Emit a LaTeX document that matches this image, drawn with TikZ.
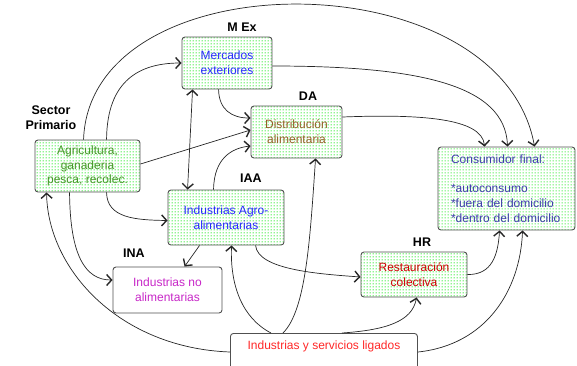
\documentclass[tikz,border=0pt]{standalone}
\usepackage{fontspec}
\setmainfont{Liberation Sans}
\usetikzlibrary{arrows.meta,patterns}

\definecolor{cblue}{RGB}{40,40,255}
\definecolor{cbrown}{RGB}{150,95,40}
\definecolor{cgreen}{RGB}{70,150,40}
\definecolor{cmagenta}{RGB}{200,40,200}
\definecolor{cindigo}{RGB}{60,60,170}
\definecolor{cdred}{RGB}{205,0,0}
\definecolor{cred}{RGB}{255,40,40}
\definecolor{dotgreen}{RGB}{0,230,0}
\definecolor{edge}{RGB}{80,80,80}

% a grid of fine dots used as the box shading
\pgfdeclarepatternformonly{gdots}{\pgfpointorigin}{\pgfpoint{3pt}{3pt}}{\pgfpoint{3pt}{3pt}}%
  {\pgfpathcircle{\pgfpoint{1.5pt}{1.5pt}}{0.8pt}\pgfusepath{fill}}

\tikzset{
  box/.style={draw=edge, line width=0.9pt, rounded corners=3pt, inner sep=0pt,
    align=center, font=\fontsize{12}{14.8}\selectfont},
  greenbox/.style={box, pattern=gdots, pattern color=dotgreen},
  plainbox/.style={box, fill=white},
  tag/.style={font=\fontsize{12.5}{15}\selectfont\bfseries, align=center, inner sep=0pt},
  tip/.tip={Straight Barb[length=5pt,width=11pt,line width=1.4pt]},
  flow/.style={draw=black!85, line width=0.7pt, -tip},
  flow2/.style={flow, tip-tip}
}

\begin{document}
\begin{tikzpicture}[x=1pt,y=-1pt]
\useasboundingbox (0,0) rectangle (577,365);
\path[clip] (0,0) rectangle (577,365);

% sector boxes
\node[greenbox, minimum width=90, minimum height=52, text=cblue] (mex) at (227,63) {Mercados\\exteriores};
\node[greenbox, minimum width=91, minimum height=52, text=cbrown] (da) at (296.5,132) {Distribución\\alimentaria};
\node[greenbox, minimum width=105, minimum height=52, text=cgreen] (agri) at (87.5,166) {Agricultura,\\ganaderia\\pesca, recolec.};
\node[greenbox, minimum width=116, minimum height=55, text=cblue] (iaa) at (226,217.5) {Industrias Agro-\\alimentarias};
\node[plainbox, minimum width=109, minimum height=46, text=cmagenta] (ina) at (167.5,290) {Industrias no\\alimentarias};
\node[greenbox, minimum width=106, minimum height=45, text=cdred] (hr) at (414,274.5) {Restauración\\colectiva};
\node[greenbox, minimum width=137, minimum height=83, text width=111, inner xsep=13, align=left, text=cindigo] (cons) at (506.5,188.5)
  {Consumidor final:\\[14.8pt]{*}autoconsumo\\{*}fuera del domicilio\\{*}dentro del domicilio};
\node[plainbox, minimum width=187, minimum height=47, text=cred, anchor=north west] (ind) at (230,333)
  {\smash{\raisebox{7pt}{Industrias y servicios ligados}}};

% short titles
\node[tag] (tmex) at (242,27) {M Ex};
\node[tag] (tda) at (308,96) {DA};
\node[tag] (tagri) at (51,117.5) {Sector\\Primario};
\node[tag] (tiaa) at (251,178) {IAA};
\node[tag] (tina) at (134,253) {INA};
\node[tag] (thr) at (422,242) {HR};

% flows out of the primary sector
\draw[flow] ([xshift=49]agri.north west) .. controls (90,-42) and (500,-42) .. ([xshift=97]cons.north west);
\draw[flow] ([xshift=72]agri.north west) .. controls (107,80) and (140,63) .. (mex.west);
\draw[flow] ([yshift=2]agri.east) -- ([yshift=2]da.west);
\draw[flow] ([xshift=72]agri.south west) .. controls (107,218) and (135,220) .. ([yshift=-3]iaa.west);
\draw[flow] ([xshift=35]agri.south west) .. controls (70,255) and (85,280) .. ([yshift=10]ina.west);

% foreign markets
\draw[flow] ([yshift=-3]mex.east) .. controls (420,66) and (505,85) .. ([xshift=70]cons.north west);
\draw[flow] ([xshift=37]mex.south west) .. controls (219,110) and (232,118) .. ([yshift=14]da.west);
\draw[flow2] ([xshift=11]mex.south west) -- ([xshift=20]iaa.north west);

% distribution and agro-food industry
\draw[flow] ([yshift=15]da.east) .. controls (420,114) and (482,118) .. ([xshift=47]cons.north west);
\draw[flow] ([xshift=46]iaa.north west) .. controls (214,158) and (232,148) .. ([yshift=-14]da.west);
\draw[flow] ([xshift=32]iaa.south west) -- ([xshift=72]ina.north west);
\draw[flow] ([xshift=88]iaa.south west) .. controls (258,270) and (320,274) .. ([yshift=-2.5]hr.west);
\draw[flow] (hr.east) .. controls (492,275) and (498,255) .. ([xshift=62]cons.south west);

% linked industries and services
\draw[flow] ([yshift=-19]ind.north west) .. controls (120,348) and (48,270) .. ([xshift=12]agri.south west);
\draw[flow] ([xshift=41]ind.north west) .. controls (242,318) and (230,285) .. ([xshift=64]iaa.south west);
\draw[flow] ([xshift=53]ind.north west) .. controls (306,310) and (310,240) .. ([xshift=65]da.south west);
\draw[flow] ([xshift=112]ind.north west) .. controls (385,330) and (412,322) .. ([xshift=56]hr.south west);
\draw[flow] ([yshift=-19]ind.north east) .. controls (485,345) and (520,292) .. ([xshift=85]cons.south west);
\end{tikzpicture}
\end{document}
